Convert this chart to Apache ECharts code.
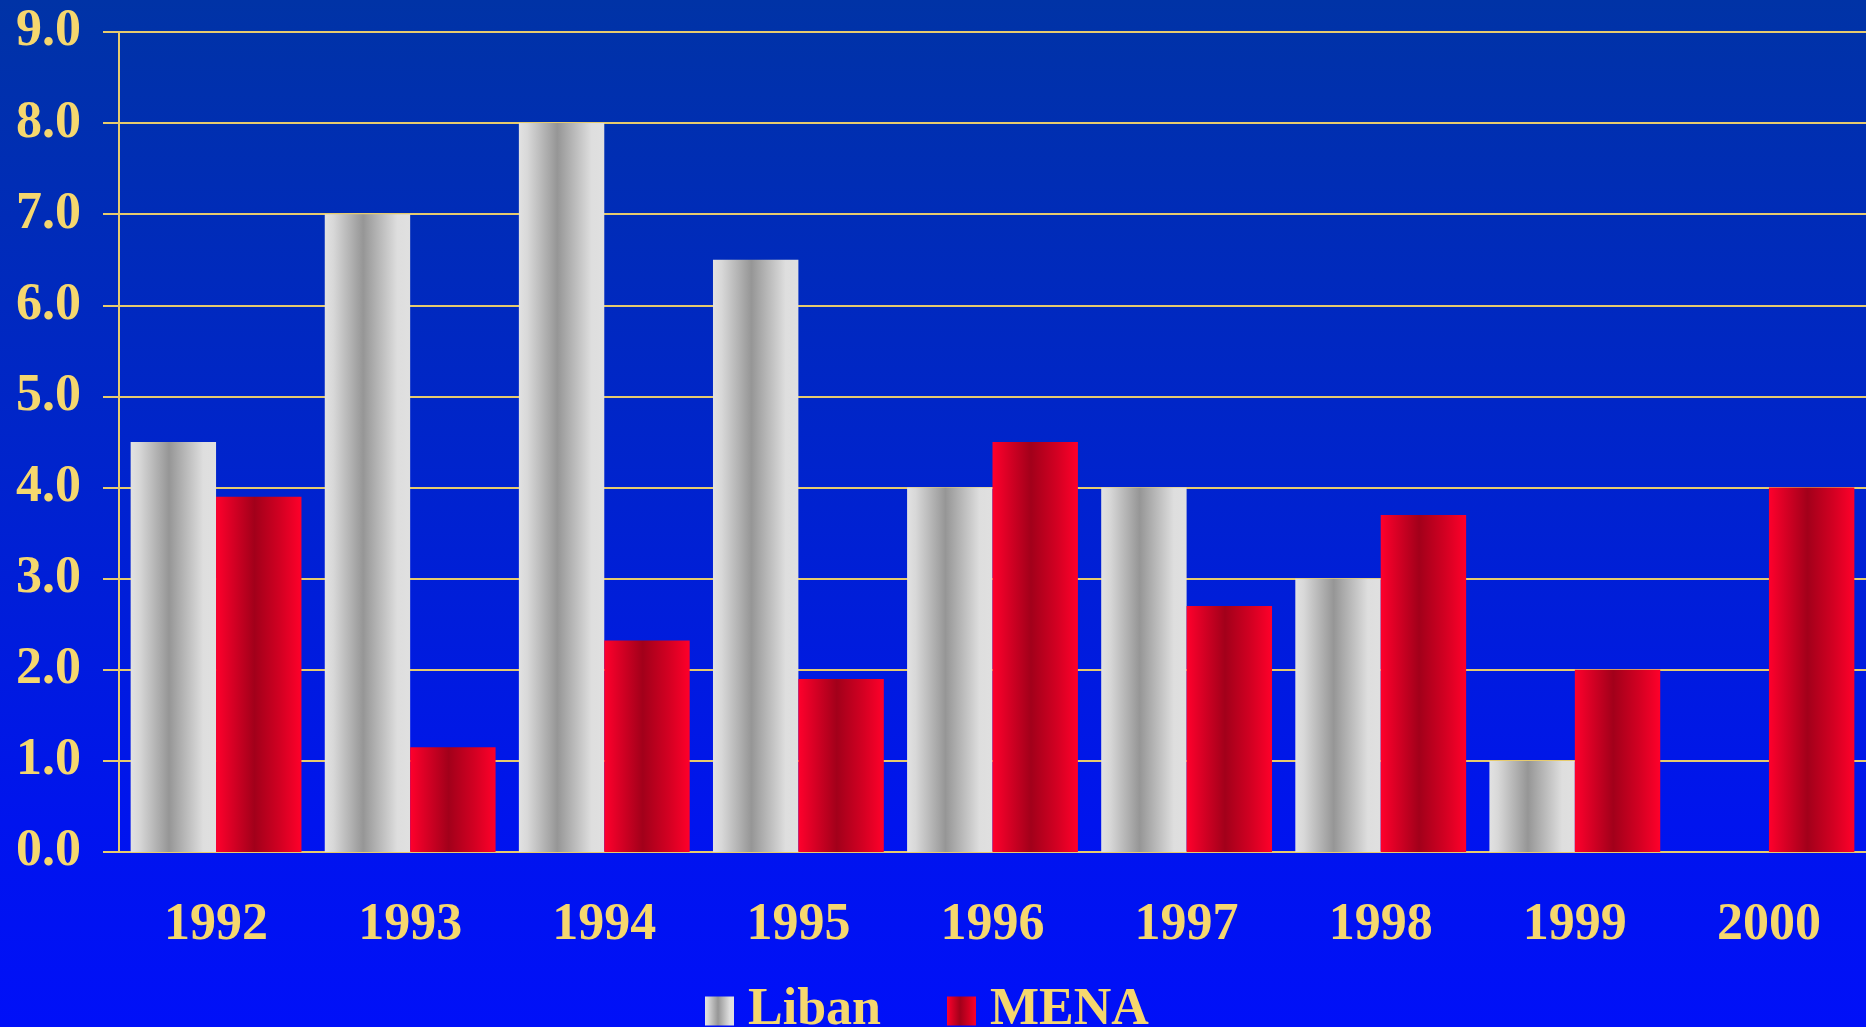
<!DOCTYPE html>
<html>
<head>
<meta charset="utf-8">
<script src="https://cdn.jsdelivr.net/npm/echarts@6/dist/echarts.min.js"></script>
<style>
  html, body { margin: 0; padding: 0; }
  #chart {
    width: 1866px;
    height: 1027px;
    background: linear-gradient(to bottom, #0033a6 0%, #0024cc 45%, #0014ee 80%, #0010f8 100%);
  }
</style>
</head>
<body>
<div id="chart"></div>
<script>
const years = ["1992", "1993", "1994", "1995", "1996", "1997", "1998", "1999", "2000"];
const liban = [4.5, 7.0, 8.0, 6.5, 4.0, 4.0, 3.0, 1.0, null];
const mena = [3.9, 1.15, 2.32, 1.9, 4.5, 2.7, 3.7, 2.0, 4.0];
const yTicks = { min: 0, max: 9, interval: 1 };

const gold = "#f5d76e";
const font = "'Liberation Serif', 'Times New Roman', serif";

function hGrad(stops) {
  return new echarts.graphic.LinearGradient(0, 0, 1, 0,
    stops.map(s => ({ offset: s[0], color: s[1] })));
}

const silver = hGrad([[0, "#e2e2e2"], [0.1, "#d8d8d8"], [0.45, "#969696"], [0.85, "#dedede"], [1, "#e0e0e0"]]);
const red = hGrad([[0, "#ff002c"], [0.45, "#a2001a"], [0.75, "#d20022"], [1, "#ff002a"]]);

const myChart = echarts.init(document.getElementById("chart"));

const option = {
  backgroundColor: "transparent",
  animation: false,
  grid: { left: 119, top: 32, right: -6, bottom: 175, containLabel: false },
  legend: {
    data: ["Liban", "MENA"],
    left: 700,
    top: 980,
    itemWidth: 29,
    itemHeight: 29,
    itemGap: 66,
    icon: "rect",
    textStyle: {
      color: gold, fontFamily: font, fontWeight: "bold", fontSize: 52,
      padding: [0, 0, 0, 9]
    }
  },
  xAxis: {
    type: "category",
    data: years,
    axisLine: { lineStyle: { color: "#e6cb6e", width: 2 } },
    axisTick: { length: 16, lineStyle: { color: "#e6cb6e", width: 2 } },
    axisLabel: { color: gold, fontFamily: font, fontWeight: "bold", fontSize: 52, margin: 48 }
  },
  yAxis: {
    type: "value",
    min: yTicks.min,
    max: yTicks.max,
    interval: yTicks.interval,
    axisLine: { show: true, lineStyle: { color: "#e6cb6e", width: 2 } },
    axisTick: { show: true, length: 16, lineStyle: { color: "#e6cb6e", width: 2 } },
    splitLine: { lineStyle: { color: "#e6cb6e", width: 2 } },
    axisLabel: {
      color: gold, fontFamily: font, fontWeight: "bold", fontSize: 52, margin: 38,
      formatter: v => v.toFixed(1)
    }
  },
  series: [
    {
      name: "Liban",
      type: "bar",
      data: liban,
      barGap: "0%",
      barCategoryGap: "12%",
      itemStyle: { color: silver }
    },
    {
      name: "MENA",
      type: "bar",
      data: mena,
      itemStyle: { color: red }
    }
  ]
};

myChart.setOption(option);
</script>
</body>
</html>
